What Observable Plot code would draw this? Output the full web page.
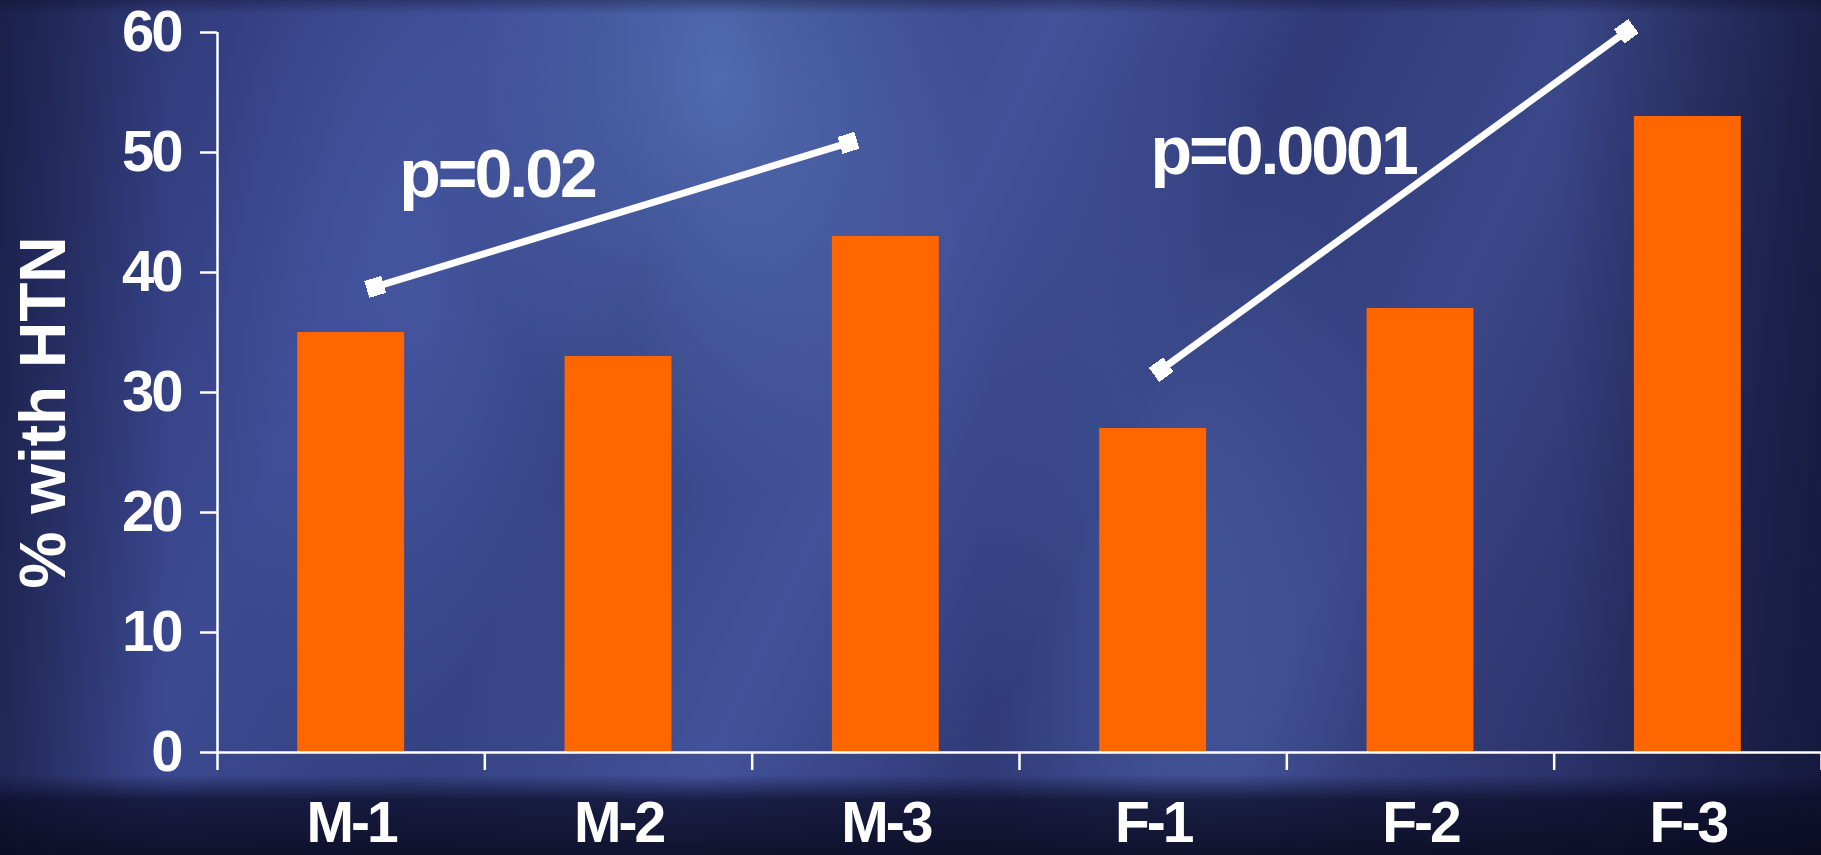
<!DOCTYPE html>
<html><head><meta charset="utf-8">
<script src="https://cdn.jsdelivr.net/npm/d3@7"></script>
<script src="https://cdn.jsdelivr.net/npm/@observablehq/plot@0.6"></script>
<style>
html,body{margin:0;padding:0;width:1821px;height:855px;overflow:hidden;}
body{
  background:
    linear-gradient(to bottom, rgba(12,13,38,0.35) 0px, rgba(12,13,38,0) 14px),
    linear-gradient(to bottom, rgba(12,13,40,0) 0px, rgba(12,13,40,0) 775px, rgba(12,13,40,0.75) 800px, rgba(10,11,32,0.88) 855px),
    linear-gradient(to right, rgba(14,16,45,0.55) 0px, rgba(14,16,45,0) 170px),
    linear-gradient(to left, rgba(14,16,45,0.6) 0px, rgba(14,16,45,0) 260px),
    radial-gradient(ellipse 260px 420px at 720px 80px, rgba(105,140,215,0.55), rgba(105,140,215,0)),
    radial-gradient(ellipse 200px 500px at 1180px 560px, rgba(95,125,200,0.35), rgba(95,125,200,0)),
    radial-gradient(ellipse 220px 520px at 420px 300px, rgba(85,110,190,0.35), rgba(85,110,190,0)),
    linear-gradient(115deg, #2b346f 0%, #3c4a92 22%, #33407f 35%, #43529a 48%, #303b78 60%, #3a4788 72%, #2a3168 88%, #222756 100%);
}
#chart svg{display:block;}
#chart svg text{letter-spacing:-3px;}
#chart svg .ylab text{letter-spacing:0px;}
</style></head><body><div id="chart"></div>
<script>
const categories = ["M-1", "M-2", "M-3", "F-1", "F-2", "F-3"];
const values = [35, 33, 43, 27, 37, 53];
const yTicks = [0, 10, 20, 30, 40, 50, 60];
const yLabel = "% with HTN";
// trend annotations (x in category-index units, y in %)
const trendX1 = [0.59, 3.53];
const trendY1 = [38.8, 31.9];
const trendX2 = [2.36, 5.27];
const trendY2 = [50.8, 60.1];
const pTexts = ["p=0.02", "p=0.0001"];
const pX = [0.68, 3.49];
const pY = [46.3, 48.2];

const bars = categories.map((c, i) => ({cat: c, i, value: values[i]}));
const trends = trendX1.map((_, k) => ({x1: trendX1[k], y1: trendY1[k], x2: trendX2[k], y2: trendY2[k]}));
const pLabels = pTexts.map((t, k) => ({text: t, x: pX[k], y: pY[k]}));

function squareMarker(color, context) {
  const m = d3.create("svg:marker")
    .attr("viewBox", "-5 -5 10 10")
    .attr("markerWidth", 2.5)
    .attr("markerHeight", 2.5)
    .attr("markerUnits", "strokeWidth")
    .attr("orient", "auto");
  m.append("rect").attr("x", -5).attr("y", -5).attr("width", 10).attr("height", 10).attr("fill", "white");
  return m.node();
}

const W = 1821, H = 855;
const chart = Plot.plot({
  width: W,
  height: H,
  marginLeft: 217,
  marginRight: 0,
  marginTop: 32,
  marginBottom: 103,
  style: {background: "transparent", color: "white", fontFamily: "'Liberation Sans', Arial, sans-serif", fontWeight: "bold", overflow: "visible"},
  x: {domain: [0, categories.length], axis: null},
  y: {domain: [0, 60], axis: null},
  marks: [
    Plot.rectY(bars, {x1: d => d.i + 0.3, x2: d => d.i + 0.7, y: "value", fill: "#ff6600"}),
    Plot.ruleY([0], {stroke: "white", strokeWidth: 2.5}),
    Plot.axisY({ticks: yTicks, tickSize: 17, tickPadding: 20, fontSize: 58, strokeWidth: 2.5, strokeOpacity: 1, label: null}),
    Plot.ruleX([0], {y1: 0, y2: 60, stroke: "white", strokeWidth: 2.5}),
    Plot.axisX({ticks: d3.range(categories.length + 1), tickSize: 18, tickFormat: () => "", strokeWidth: 2.5, strokeOpacity: 1, label: null}),
    Plot.axisX({ticks: bars.map(d => d.i + 0.5), tickFormat: (v) => categories[Math.round(v - 0.5)], tickSize: 0, tickPadding: 49, fontSize: 57, label: null}),
    Plot.text([yLabel], {frameAnchor: "left", textAnchor: "middle", rotate: -90, dx: -173, dy: 20, fontSize: 64, fill: "white", fontWeight: "bold", className: "ylab"}),
    Plot.link(trends, {x1: "x1", y1: "y1", x2: "x2", y2: "y2", stroke: "white", strokeWidth: 7, strokeOpacity: 1, markerStart: squareMarker, markerEnd: squareMarker}),
    Plot.text(pLabels, {x: "x", y: "y", text: "text", textAnchor: "start", lineAnchor: "bottom", fontSize: 68, fill: "white", fontWeight: "bold"})
  ]
});
document.getElementById("chart").appendChild(chart);
</script>
</body></html>
